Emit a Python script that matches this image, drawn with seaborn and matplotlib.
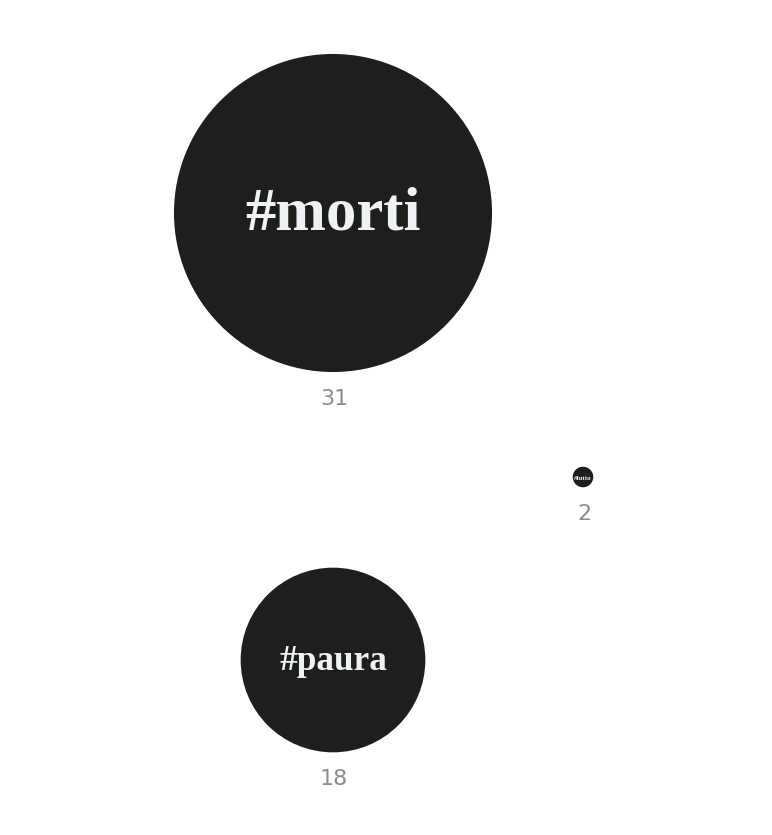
import matplotlib
matplotlib.use("Agg")
import matplotlib.pyplot as plt
import seaborn as sns
import pandas as pd

# --- data ---
hashtags = ["#morti", "#lutto", "#paura"]
counts = [31, 2, 18]
# bubble layout (pixel space of the 772x835 canvas)
pos_x = [333, 583, 333]
pos_y = [213, 477, 660]

PX_PER_UNIT = 5.13  # radius in px per count
DPI = 100

df = pd.DataFrame({"tag": hashtags, "count": counts, "x": pos_x, "y": pos_y})

sns.set_theme(style="white")
fig = plt.figure(figsize=(7.72, 8.35), dpi=DPI)
ax = fig.add_axes([0, 0, 1, 1])

# area in points^2 so radius is proportional to count
size_map = {c: (2 * c * PX_PER_UNIT * 72 / DPI) ** 2 for c in counts}
sns.scatterplot(data=df, x="x", y="y", size="count", sizes=size_map,
                color="#1e1e1d", edgecolor="none", linewidth=0,
                legend=False, ax=ax)

for _, row in df.iterrows():
    r = row["count"] * PX_PER_UNIT
    fs = max(row["count"] * 1.41, 5)
    ax.text(row["x"], row["y"] + 2, row["tag"], ha="center", va="center",
            color="#eef2f4", fontsize=fs, fontweight="bold",
            family="Liberation Serif")
    ax.text(row["x"] + 1, row["y"] + r + 17, str(row["count"]), ha="center", va="top",
            color="#8c8c8c", fontsize=16, family="DejaVu Sans")

ax.set_xlim(0, 772)
ax.set_ylim(835, 0)
ax.set_axis_off()
fig.savefig("out.png", dpi=DPI, facecolor="white")
